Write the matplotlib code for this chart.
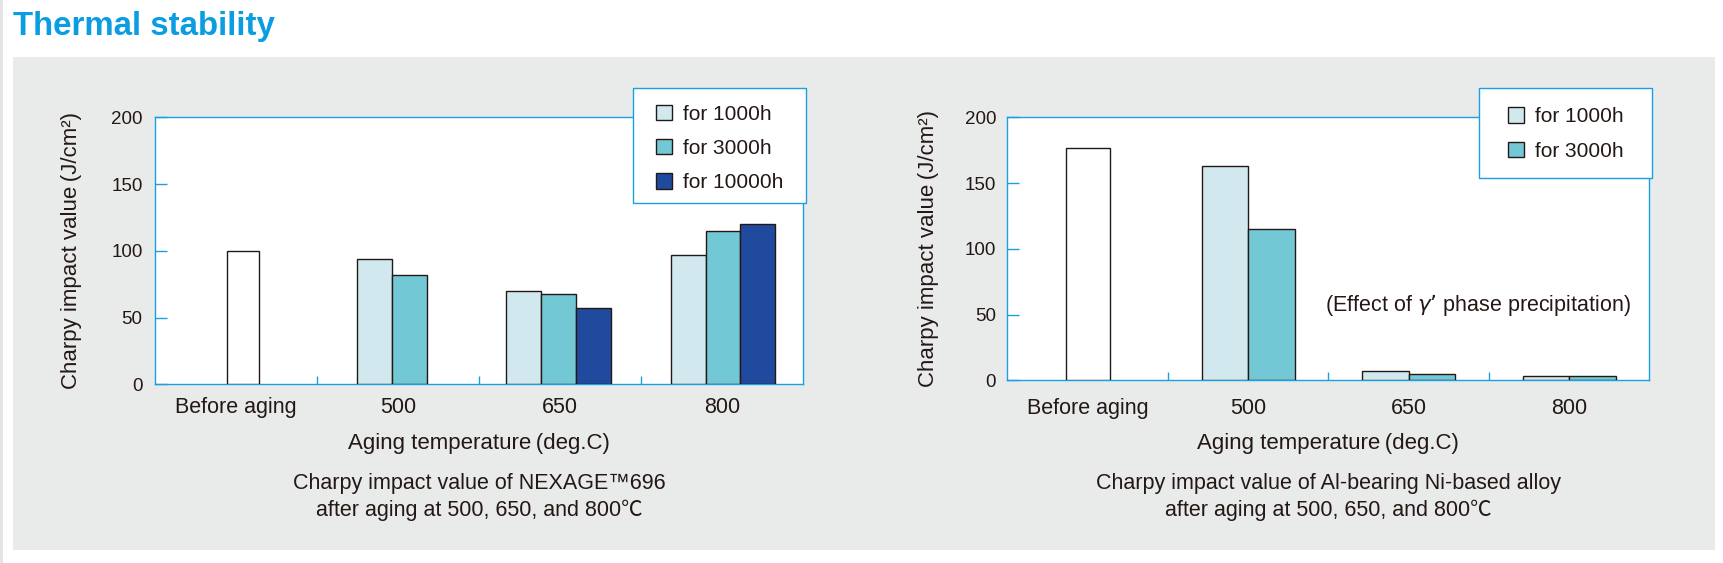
import matplotlib
matplotlib.use("Agg")
import numpy as np
import matplotlib.pyplot as plt
from matplotlib.patches import Rectangle, Patch

plt.rcParams['font.family'] = ['Liberation Sans', 'Noto Sans CJK JP', 'DejaVu Sans']

# ---- data ----
categories = ["Before aging", "500", "650", "800"]
series_labels_left = ["for 1000h", "for 3000h", "for 10000h"]
series_labels_right = ["for 1000h", "for 3000h"]

before_left = 100
left_1000h = [94, 70, 97]          # 500, 650, 800 deg.C
left_3000h = [82, 68, 115]
left_10000h = [None, 57, 120]

before_right = 177
right_1000h = [163, 7, 3]
right_3000h = [115, 4.5, 3]

# ---- styles ----
W, H = 1724, 563
BLUE = "#1a9fe0"
TXT = "#231815"
EDGE = "#231815"
PANEL = "#e9ebea"
colors = ["#d1e9ee", "#73c8d5", "#204a9e"]


def fx(px):
    return px / W


def fy(py):
    return 1 - py / H


fig = plt.figure(figsize=(W / 100, H / 100), dpi=100)
fig.patch.set_facecolor("white")

# grey panel + thin strip on the left edge
fig.patches.append(Rectangle((fx(13), fy(550)), fx(1715) - fx(13), fy(57) - fy(550),
                             transform=fig.transFigure, facecolor=PANEL, edgecolor="none", zorder=-2))
fig.patches.append(Rectangle((0, 0), fx(3), 1, transform=fig.transFigure,
                             facecolor="#e4e4e4", edgecolor="none", zorder=-2))

fig.text(fx(13), fy(35), "Thermal stability", fontsize=23.8, fontweight="bold",
         color="#0a9de2", ha="left", va="baseline")


def draw_chart(ax_px, before, series, labels, bar_w, before_w, group_shift, legend_box, legend_anchor,
               ytick_pad, xtick_pad, title_lines):
    x0, y0, x1, y1 = ax_px
    ax = fig.add_axes([fx(x0), fy(y1), fx(x1) - fx(x0), fy(y0) - fy(y1)])
    ax.set_facecolor("white")
    ax.set_xlim(-0.5, 3.5)
    ax.set_ylim(0, 200)

    ax.bar(0 + group_shift[0], before, width=before_w, color="white", edgecolor=EDGE,
           linewidth=1.0, zorder=3)
    for i in range(3):
        present = [(k, s[i]) for k, s in enumerate(series) if s[i] is not None]
        n = len(present)
        for j, (k, v) in enumerate(present):
            ax.bar(i + 1 + group_shift[i + 1] + (j - (n - 1) / 2) * bar_w, v, width=bar_w,
                   color=colors[k], edgecolor=EDGE, linewidth=1.0, zorder=3)

    for sp in ax.spines.values():
        sp.set_color(BLUE)
        sp.set_linewidth(1.0)

    ax.set_yticks([0, 50, 100, 150, 200])
    ax.tick_params(axis="y", direction="in", length=8.6, width=1.0, color=BLUE,
                   labelsize=13.5, labelcolor=TXT, pad=ytick_pad)
    ax.set_xticks(range(4))
    ax.set_xticklabels(categories)
    ax.set_xticks([0.5, 1.5, 2.5], minor=True)
    ax.tick_params(axis="x", which="major", length=0, labelsize=15.5, labelcolor=TXT, pad=xtick_pad)
    ax.tick_params(axis="x", which="minor", direction="in", length=5.8, width=1.0, color=BLUE)

    ax.set_ylabel("Charpy impact value\u2009(J/cm²)", fontsize=16, color=TXT, va="center")
    ax.set_xlabel("Aging temperature\u2009(deg.C)", fontsize=16, color=TXT, va="center")
    ax.xaxis.set_label_coords(0.5, (y1 - 444) / (y1 - y0))

    # legend frame, then legend entries on top of it
    lx0, ly0, lx1, ly1 = legend_box
    fig.patches.append(Rectangle((fx(lx0), fy(ly1)), fx(lx1) - fx(lx0), fy(ly0) - fy(ly1),
                                 transform=fig.transFigure, facecolor="white",
                                 edgecolor=BLUE, linewidth=1.0, zorder=1))
    handles = [Patch(facecolor=colors[k], edgecolor=EDGE, linewidth=1.0) for k in range(len(labels))]
    fig.legend(handles, labels, loc="upper left",
               bbox_to_anchor=(fx(legend_anchor[0]), fy(legend_anchor[1])),
               frameon=False, fontsize=15, borderpad=0, borderaxespad=0, handlelength=0.77,
               handleheight=0.77, handletextpad=0.5, labelspacing=0.74, labelcolor=TXT)

    cx = (x0 + x1) / 2
    fig.text(fx(cx), fy(484), title_lines[0], fontsize=15.5, color=TXT, ha="center", va="center")
    fig.text(fx(cx), fy(510), title_lines[1], fontsize=15.5, color=TXT, ha="center", va="center")
    return ax


axl = draw_chart((155.3, 117.3, 803.3, 384.3), before_left, [left_1000h, left_3000h, left_10000h],
                 series_labels_left, 0.215, 0.197, [0.04, -0.037, -0.011, 0.004],
                 (633.3, 88.3, 806.3, 203.3), (656.3, 104.5), 9.1, 9.5,
                 ["Charpy impact value of NEXAGE™696", "after aging at 500, 650, and 800℃"])
axl.yaxis.set_label_coords((71.5 - 155.3) / 648, 0.5)

axr = draw_chart((1007.3, 117.3, 1649.3, 380.3), before_right, [right_1000h, right_3000h],
                 series_labels_right, 0.29, 0.274, [0, 0, 0, 0],
                 (1479.3, 88.3, 1652.3, 178.3), (1508.3, 107.2), 8.1, 12.5,
                 ["Charpy impact value of Al-bearing Ni-based alloy", "after aging at 500, 650, and 800℃"])
axr.yaxis.set_label_coords((929 - 1007.3) / 642, 0.5)
axr.text(2.43, 57, "(Effect of $\\gamma$’ phase precipitation)", fontsize=15.5, color=TXT,
         ha="center", va="center")

fig.savefig("out.png", dpi=100)
